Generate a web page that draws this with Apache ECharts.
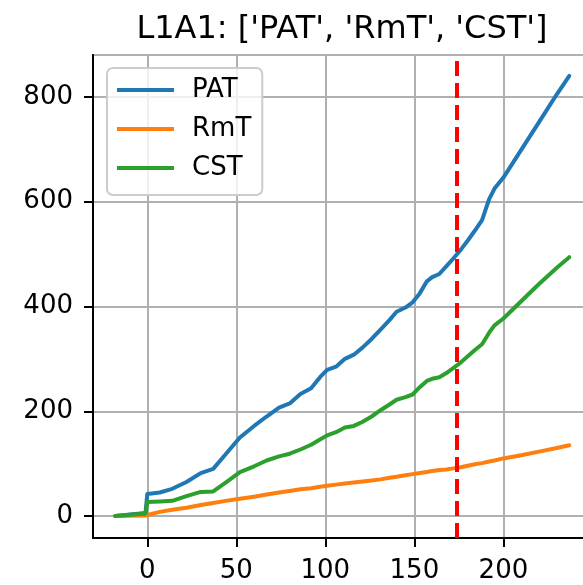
<!DOCTYPE html>
<html>
<head>
<meta charset="utf-8">
<script src="https://cdn.jsdelivr.net/npm/echarts@6/dist/echarts.min.js"></script>
<style>
html,body{margin:0;padding:0;background:#fff;}
#chart{width:583px;height:585px;}
</style>
</head>
<body>
<div id="chart"></div>
<script>
const titleText = "L1A1: ['PAT', 'RmT', 'CST']";
const seriesNames = ['PAT', 'RmT', 'CST'];
const xValues = [-18, -1, 0, 7, 14, 22, 30, 37, 44, 52, 60, 67, 74, 80, 86, 92, 97, 101, 106, 111, 116, 121, 126, 131, 136, 140, 145, 149, 153, 157, 160, 164, 168, 172, 176, 180, 184, 188, 192, 195, 200, 210, 220, 230, 237];
const patValues = [0, 6, 42, 45, 52, 65, 82, 90, 118, 150, 172, 190, 207, 215, 233, 244, 265, 279, 285, 300, 308, 322, 338, 356, 374, 390, 398, 408, 425, 448, 456, 462, 477, 492, 508, 526, 545, 565, 605, 625, 646, 699, 752, 805, 840];
const rmtValues = [0, 1, 3, 8, 12, 16, 21, 25, 29, 33, 37, 41, 45, 48, 51, 53, 56, 58, 60, 62, 64, 66, 68, 70, 73, 75, 78, 80, 82, 84, 86, 88, 89, 91, 93, 96, 99, 101, 104, 106, 110, 116, 123, 130, 135];
const cstValues = [0, 5, 27, 28, 29, 38, 46, 47, 64, 84, 95, 106, 114, 119, 127, 136, 146, 154, 160, 169, 172, 180, 190, 202, 213, 222, 227, 232, 246, 258, 262, 265, 273, 283, 293, 305, 317, 328, 350, 364, 377, 410, 443, 474, 494];
const markerX = 174;
const xRange = [-30.5, 249.2];
const yRange = [-41.9, 880];

const colors = ['#1f77b4', '#ff7f0e', '#2ca02c'];
const allValues = [patValues, rmtValues, cstValues];
const pairs = vals => xValues.map((x, i) => [x, vals[i]]);

const chart = echarts.init(document.getElementById('chart'));
const font = 'DejaVu Sans';
const series = seriesNames.map((name, i) => ({
  name: name,
  type: 'line',
  data: pairs(allValues[i]),
  showSymbol: false,
  symbol: 'none',
  lineStyle: { color: colors[i], width: 4, cap: 'round', join: 'round' },
  itemStyle: { color: colors[i] },
  z: 3 + i,
  animation: false
}));
series[0].markLine = {
  silent: true,
  symbol: ['none', 'none'],
  label: { show: false },
  lineStyle: { color: '#ff0000', type: [15, 7], width: 4 },
  data: [{ xAxis: markerX }],
  animation: false
};
series[0].markLine.z = 10;

chart.setOption({
  animation: false,
  backgroundColor: '#ffffff',
  textStyle: { fontFamily: font },
  title: {
    text: titleText,
    left: 342,
    top: 14,
    padding: 0,
    textAlign: 'center',
    textStyle: { fontFamily: font, fontSize: 32, fontWeight: 'normal', color: '#000' }
  },
  grid: {
    left: 93, top: 55, width: 498, height: 483,
    containLabel: false,
    outerBoundsMode: 'none',
    show: true, borderColor: '#000', borderWidth: 2, backgroundColor: 'transparent'
  },
  legend: {
    orient: 'vertical',
    left: 107, top: 68,
    padding: [9, 11, 14, 10],
    itemGap: 13,
    itemWidth: 57, itemHeight: 4,
    icon: 'rect',
    backgroundColor: 'rgba(255,255,255,0.8)',
    borderColor: '#cccccc', borderWidth: 2, borderRadius: 6,
    textStyle: { fontFamily: font, fontSize: 26, color: '#000', padding: [0, 0, 0, 13] },
    data: seriesNames,
    z: 20
  },
  xAxis: {
    type: 'value', min: xRange[0], max: xRange[1],
    axisLine: { onZero: false, lineStyle: { color: '#000', width: 2 } },
    axisTick: { show: true, inside: false, length: 9, lineStyle: { color: '#000', width: 2 } },
    axisLabel: { showMinLabel: false, showMaxLabel: false, margin: 20, fontSize: 26, color: '#000', fontFamily: font },
    splitLine: { show: true, lineStyle: { color: '#b0b0b0', width: 2 } }
  },
  yAxis: {
    type: 'value', min: yRange[0], max: yRange[1],
    axisLine: { onZero: false, lineStyle: { color: '#000', width: 2 } },
    axisTick: { show: true, inside: false, length: 9, lineStyle: { color: '#000', width: 2 } },
    axisLabel: { showMinLabel: false, showMaxLabel: false, margin: 20, fontSize: 26, color: '#000', fontFamily: font },
    splitLine: { show: true, lineStyle: { color: '#b0b0b0', width: 2 } }
  },
  series: series
});
</script>
</body>
</html>
